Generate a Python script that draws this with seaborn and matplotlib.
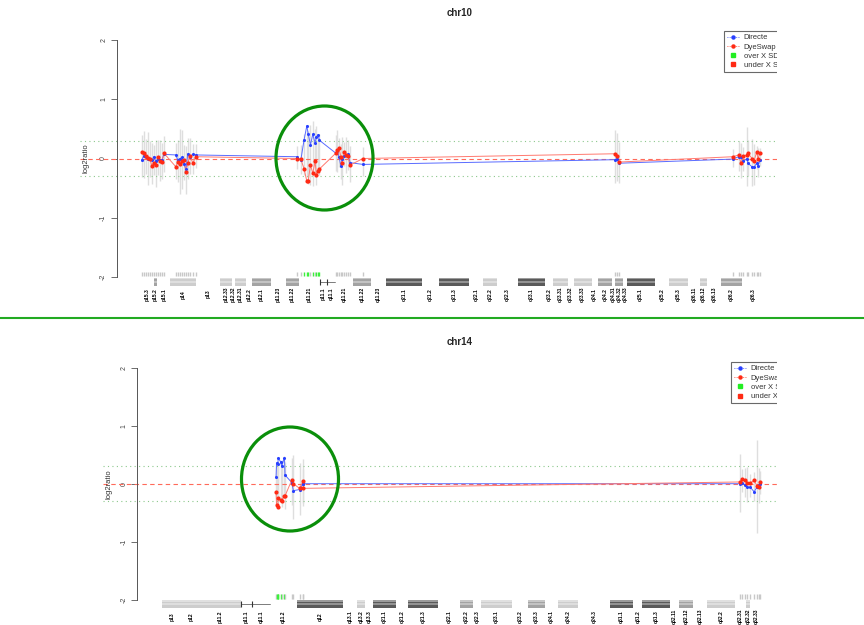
import numpy as np
import pandas as pd
import matplotlib
matplotlib.use('Agg')
import matplotlib.pyplot as plt
import seaborn as sns
from matplotlib.lines import Line2D
from matplotlib.patches import Ellipse, Rectangle

sns.set_style('white')
plt.rcParams['font.family'] = ['Liberation Sans', 'DejaVu Sans']

# ---- chr10 probes (Mb), log2 ratios for both hybridisations, spread of replicates
chr10_pos = [0.4, 0.9, 1.3, 1.7, 2.2, 2.6, 3.0, 3.5, 3.9, 4.3, 4.8, 5.2,
             7.8, 8.2, 8.7, 9.1, 9.5, 10.0, 10.4, 10.8, 11.5, 12.1,
             34.0, 34.9, 35.6, 36.2, 36.5, 37.0, 37.5, 38.0, 38.3, 38.7, 38.9,
             42.5, 42.8, 43.2, 43.6, 43.9, 44.3, 44.7, 45.1, 45.6,
             48.4,
             103.0, 103.5, 103.9,
             128.6, 129.9, 130.4, 130.9, 131.7, 131.9, 132.8, 133.2, 133.8, 134.1, 134.5]
chr10_directe = [-0.02, 0.05, 0.02, -0.01, 0.0, -0.03, 0.03, -0.05, 0.0, -0.03, -0.02, 0.07,
                 0.06, -0.02, 0.0, 0.02, -0.10, -0.17, 0.08, 0.03, 0.07, 0.06,
                 0.03, -0.03, 0.31, 0.55, 0.42, 0.23, 0.41, 0.26, 0.37, 0.40, 0.31,
                 0.09, 0.12, 0.03, -0.13, 0.0, 0.05, 0.06, 0.07, -0.07,
                 -0.10,
                 -0.02, 0.0, -0.08,
                 -0.01, 0.03, 0.02, -0.05, 0.0, -0.08, -0.14, -0.15, -0.08, -0.13, -0.03]
chr10_dyeswap = [0.11, 0.09, 0.04, 0.01, -0.01, -0.13, -0.08, -0.11, 0.03, -0.04, -0.06, 0.09,
                 -0.14, -0.06, -0.10, -0.05, -0.03, -0.22, -0.08, 0.05, -0.08, 0.03,
                 0.0, -0.01, -0.17, -0.38, -0.38, -0.11, -0.25, -0.05, -0.28, -0.21, -0.18,
                 0.09, 0.14, 0.17, 0.03, -0.08, 0.11, 0.06, 0.04, -0.11,
                 0.0,
                 0.08, 0.05, -0.06,
                 0.03, 0.06, -0.08, 0.04, 0.06, 0.09, 0.0, -0.05, 0.11, 0.0, 0.09]
chr10_sd = [0.35, 0.4, 0.3, 0.45, 0.3, 0.35, 0.25, 0.4, 0.3, 0.35, 0.3, 0.3,
            0.3, 0.35, 0.55, 0.5, 0.3, 0.4, 0.35, 0.3, 0.25, 0.2,
            0.2, 0.25, 0.35, 0.4, 0.45, 0.5, 0.55, 0.4, 0.5, 0.3, 0.35,
            0.3, 0.35, 0.25, 0.3, 0.4, 0.2, 0.3, 0.25, 0.3,
            0.25,
            0.45, 0.4, 0.35,
            0.15, 0.25, 0.3, 0.2, 0.5, 0.3, 0.4, 0.35, 0.2, 0.25, 0.15]

chr10_band_names = ['p15.3', 'p15.2', 'p15.1', 'p14', 'p13', 'p12.33', 'p12.32', 'p12.31', 'p12.2',
                    'p12.1', 'p11.23', 'p11.22', 'p11.21', 'p11.1', 'q11.1', 'q11.21', 'q11.22',
                    'q11.23', 'q21.1', 'q21.2', 'q21.3', 'q22.1', 'q22.2', 'q22.3', 'q23.1',
                    'q23.2', 'q23.31', 'q23.32', 'q23.33', 'q24.1', 'q24.2', 'q24.31', 'q24.32',
                    'q24.33', 'q25.1', 'q25.2', 'q25.3', 'q26.11', 'q26.12', 'q26.13', 'q26.2', 'q26.3']
chr10_band_start = [0.0, 3.0, 3.8, 6.6, 12.2, 17.3, 20.0, 20.6, 23.0, 24.4, 28.4, 31.7, 34.5, 39.0,
                    40.6, 42.3, 46.2, 50.1, 53.4, 61.2, 64.9, 71.4, 74.4, 77.4, 82.0, 87.9, 89.6,
                    92.8, 94.1, 98.0, 99.3, 102.4, 103.0, 104.8, 105.6, 111.7, 114.8, 118.9,
                    121.5, 123.0, 126.0, 130.6]
chr10_band_end = chr10_band_start[1:] + [135.5]
chr10_band_stain = ['gneg', 'mid', 'gneg', 'light', 'gneg', 'light', 'gneg', 'light', 'gneg',
                    'mid', 'gneg', 'mid', 'gneg', 'acen', 'acen', 'gneg', 'mid', 'gneg', 'dark',
                    'gneg', 'dark', 'gneg', 'light', 'gneg', 'dark', 'gneg', 'light', 'gneg',
                    'light', 'gneg', 'mid', 'gneg', 'mid', 'gneg', 'dark', 'gneg', 'light',
                    'gneg', 'light', 'gneg', 'mid', 'gneg']

# ---- chr14
chr14_pos = [20.4, 20.5, 20.7, 20.8, 21.2, 21.4, 21.9, 22.0, 23.2, 23.5, 24.6, 25.2, 25.3,
             103.4, 103.7, 104.3, 104.6, 105.2, 105.9, 106.4, 106.8, 107.0]
chr14_directe = [0.12, 0.36, 0.34, 0.44, 0.38, 0.30, 0.45, 0.15, 0.02, -0.12, -0.10, 0.0, 0.0,
                 0.0, 0.02, -0.02, -0.06, -0.06, -0.14, -0.06, -0.02, 0.0]
chr14_dyeswap = [-0.15, -0.37, -0.40, -0.25, -0.28, -0.29, -0.21, -0.21, 0.06, 0.0, -0.08, 0.04, -0.08,
                 0.03, 0.08, 0.06, 0.02, 0.01, 0.06, -0.04, -0.05, 0.03]
chr14_sd = [0.35, 0.35, 0.3, 0.3, 0.35, 0.4, 0.35, 0.4, 0.4, 0.55, 0.45, 0.4, 0.3,
            0.5, 0.2, 0.25, 0.3, 0.2, 0.25, 0.8, 0.3, 0.2]

chr14_band_names = ['p13', 'p12', 'p11.2', 'p11.1', 'q11.1', 'q11.2', 'q12', 'q13.1', 'q13.2',
                    'q13.3', 'q21.1', 'q21.2', 'q21.3', 'q22.1', 'q22.2', 'q22.3', 'q23.1',
                    'q23.2', 'q23.3', 'q24.1', 'q24.2', 'q24.3', 'q31.1', 'q31.2', 'q31.3',
                    'q32.11', 'q32.12', 'q32.13', 'q32.2', 'q32.31', 'q32.32', 'q32.33']
chr14_band_start = [0.0, 3.6, 6.8, 14.1, 16.1, 19.3, 24.2, 32.4, 34.9, 36.3, 37.7, 41.9, 44.0,
                    49.4, 53.3, 55.6, 57.1, 62.6, 65.5, 68.5, 70.8, 74.4, 80.1, 84.3, 85.9,
                    90.9, 92.5, 95.0, 97.5, 102.5, 104.5, 105.2]
chr14_band_end = chr14_band_start[1:] + [107.3]
chr14_band_stain = ['light', 'light', 'light', 'acen', 'acen', 'gneg', 'dark', 'gneg', 'light',
                    'gneg', 'dark', 'gneg', 'dark', 'gneg', 'mid', 'gneg', 'light', 'gneg', 'mid',
                    'gneg', 'light', 'gneg', 'dark', 'gneg', 'dark', 'gneg', 'mid', 'gneg',
                    'light', 'gneg', 'light', 'gneg']

threshold = 0.3
W, H = 864, 625
stain_col = {'light': '#cdcdcd', 'mid': '#a3a3a3', 'dark': '#5a5a5a'}

fig = plt.figure(figsize=(W / 100, H / 100), dpi=100)


def px_axes(left, top, right, bottom):
    return fig.add_axes([left / W, 1 - bottom / H, (right - left) / W, (bottom - top) / H])


def draw_panel(ax, pos, directe, dyeswap, sd, names, starts, ends, stains, yaxis_x):
    df = pd.DataFrame({'pos': pos, 'Directe': directe, 'DyeSwap': dyeswap, 'sd': sd})
    centre = (df['Directe'] + df['DyeSwap']) / 2
    ax.vlines(df['pos'], centre - df['sd'], centre + df['sd'], color='#dedede', lw=1.0, zorder=1)

    ax.axhline(0, color='#ff6a5a', ls=(0, (4, 3)), lw=0.8, zorder=2)
    for t in (threshold, -threshold):
        ax.axhline(t, color='#8cc88c', ls=(0, (1, 3)), lw=0.8, zorder=2)

    sns.lineplot(data=df, x='pos', y='Directe', ax=ax, sort=False, estimator=None,
                 color='#5a6cff', lw=0.7, zorder=3)
    sns.lineplot(data=df, x='pos', y='DyeSwap', ax=ax, sort=False, estimator=None,
                 color='#ff7a70', lw=0.7, zorder=3)
    sns.scatterplot(data=df, x='pos', y='Directe', ax=ax, color='#2840ff', s=5,
                    linewidth=0, zorder=4)
    sns.scatterplot(data=df, x='pos', y='DyeSwap', ax=ax, color='#ff2a14', s=9,
                    linewidth=0, zorder=5)

    # probe ticks above the ideogram, green where over threshold
    tick_col = ['#3cf03c' if v > threshold else '#c8c8c8' for v in directe]
    ax.vlines(pos, -1.91, -1.99, colors=tick_col, lw=1.0, zorder=3)

    # ideogram
    y_top, y_bot = -2.01, -2.15
    mid = (y_top + y_bot) / 2
    acen = [(s, e) for s, e, st in zip(starts, ends, stains) if st == 'acen']
    for name, s, e, st in zip(names, starts, ends, stains):
        if st in stain_col:
            ax.add_patch(Rectangle((s, y_bot), e - s, y_top - y_bot, facecolor=stain_col[st],
                                   lw=0, zorder=3))
            ax.add_patch(Rectangle((s, mid - 0.015), e - s, 0.03, facecolor='white',
                                   alpha=0.35, lw=0, zorder=3))
            ax.add_patch(Rectangle((s, y_top - 0.025), e - s, 0.025, facecolor='white',
                                   alpha=0.4, lw=0, zorder=3))
        ax.text((s + e) / 2, -2.29, name, rotation=90, fontsize=3.6, fontweight='bold',
                ha='center', va='center', color='black')
    ax.plot([acen[0][0], acen[-1][1]], [mid, mid], color='#666666', lw=0.6, zorder=3)
    ax.vlines([a[0] for a in acen], y_bot + 0.02, y_top - 0.02, color='#333333', lw=0.8, zorder=3)

    # y axis R-style
    for side in ['top', 'right', 'bottom']:
        ax.spines[side].set_visible(False)
    ax.spines['left'].set_position(('data', yaxis_x))
    ax.spines['left'].set_bounds(-2, 2)
    ax.spines['left'].set_color('#555555')
    ax.spines['left'].set_linewidth(0.7)
    ax.set_yticks([-2, -1, 0, 1, 2])
    ax.set_yticklabels(['-2', '-1', '0', '1', '2'], rotation=90, va='center',
                       fontsize=5, color='#444444')
    ax.tick_params(axis='y', left=True, length=4, width=0.6, color='#555555', pad=3)
    ax.set_xticks([])
    ax.set_xlabel('')
    ax.set_ylabel('')
    ax.text(0.008, 0, 'log2ratio', transform=ax.get_yaxis_transform(), rotation=90,
            ha='center', va='center', fontsize=5.5, color='#333333')
    ax.patch.set_alpha(0)


def add_legend(x_px, y_px):
    handles = [Line2D([], [], color='#2840ff', ls=':', lw=0.6, marker='o', markersize=2.2),
               Line2D([], [], color='#ff2a14', ls=':', lw=0.6, marker='o', markersize=2.2),
               Line2D([], [], color='#22ee22', ls='none', marker='s', markersize=3.5),
               Line2D([], [], color='#ff2a14', ls='none', marker='s', markersize=3.5)]
    labels = ['Directe', 'DyeSwap', 'over X SD', 'under X SD']
    leg = fig.legend(handles, labels, loc='upper left', bbox_to_anchor=(x_px / W, 1 - y_px / H),
                     fontsize=5.5, frameon=True, fancybox=False, borderpad=0.4,
                     labelspacing=0.25, handlelength=1.6, handletextpad=0.6, borderaxespad=0)
    leg.get_frame().set_edgecolor('#444444')
    leg.get_frame().set_linewidth(0.8)
    for t in leg.get_texts():
        t.set_color('#333333')


# top panel: chr10
ax1 = px_axes(80, 34.1, 800, 306.6)
ax1.set_xlim(-13.0, 143.2)
ax1.set_ylim(-2.5, 2.1)
draw_panel(ax1, chr10_pos, chr10_directe, chr10_dyeswap, chr10_sd, chr10_band_names,
           chr10_band_start, chr10_band_end, chr10_band_stain, -5.0)
fig.text(460 / W, 1 - 13 / H, 'chr10', ha='center', va='center', fontsize=7, fontweight='bold')
add_legend(724, 31)

# bottom panel: chr14
ax2 = px_axes(103, 361.9, 800, 625)
ax2.set_xlim(-10.55, 114.1)
ax2.set_ylim(-2.436, 2.1)
draw_panel(ax2, chr14_pos, chr14_directe, chr14_dyeswap, chr14_sd, chr14_band_names,
           chr14_band_start, chr14_band_end, chr14_band_stain, -4.47)
fig.text(460 / W, 1 - 342 / H, 'chr14', ha='center', va='center', fontsize=7, fontweight='bold')
add_legend(731, 362)

# cropped right margin, separator, highlight circles
fig.add_artist(Rectangle((777 / W, 0), 1 - 777 / W, 1, transform=fig.transFigure,
                         facecolor='white', edgecolor='none', zorder=10))
fig.add_artist(Line2D([0, 1], [1 - 318 / H, 1 - 318 / H], transform=fig.transFigure,
                      color='#22aa22', lw=1.5, zorder=11))
for cx, cy in [(324.5, 158), (290, 479)]:
    fig.add_artist(Ellipse((cx / W, 1 - cy / H), 97 / W, 104 / H, transform=fig.transFigure,
                           fill=False, edgecolor='#0a8f0a', lw=2.3, zorder=12))

fig.savefig('out.png', dpi=100)
